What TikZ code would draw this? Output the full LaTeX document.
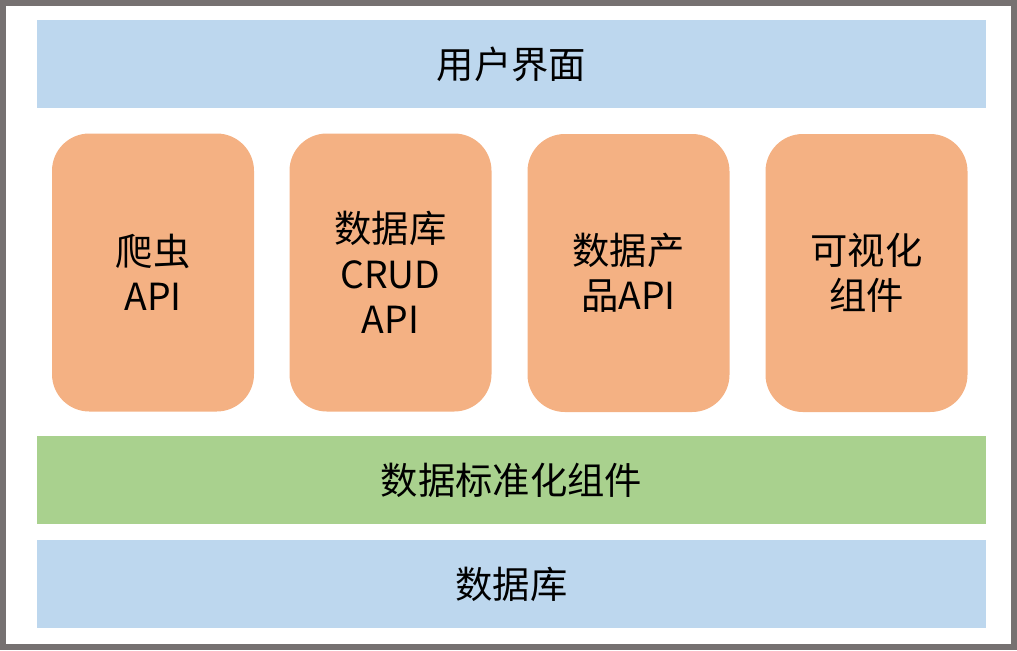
\documentclass[tikz,border=0pt]{standalone}
\usepackage{fontspec}
\setmainfont{Noto Sans CJK SC}
\usepackage{xcolor}
\usepackage{tikz}
\definecolor{LayerBlue}{RGB}{189,215,238}
\definecolor{ModOrange}{RGB}{244,177,131}
\definecolor{StdGreen}{RGB}{169,209,142}
\definecolor{FrameGray}{RGB}{118,113,113}

\begin{document}
\begin{tikzpicture}[
    x=0.75pt, y=-0.75pt,
    layer/.style={rectangle, fill=LayerBlue, inner sep=0pt,
                  minimum width=711.75pt, minimum height=66pt,
                  font=\fontsize{28}{34}\selectfont},
    module/.style={rectangle, fill=ModOrange, inner sep=0pt,
                   minimum width=151.5pt, minimum height=208.5pt,
                   rounded corners=28pt, align=center,
                   font=\fontsize{28}{34}\selectfont}
]

% Frame
\useasboundingbox (0,0) rectangle (1017,650);
\draw[FrameGray, line width=4.5pt] (3,3) rectangle (1014,647);

% Layers
\node[layer] (ui) at (511.5,64) {用户界面};
\node[layer, fill=StdGreen] (std) at (511.5,480) {数据标准化组件};
\node[layer] (db) at (511.5,584) {数据库};

% Modules
\node[module] (crawler) at (153,272.5) {爬虫\\API};
\node[module] (crud) at (390.5,272.5) {数据库\\CRUD\\API};
\node[module] (product) at (628.5,273) {数据产\\品API};
\node[module] (viscomp) at (866.5,273) {可视化\\组件};

\end{tikzpicture}
\end{document}
